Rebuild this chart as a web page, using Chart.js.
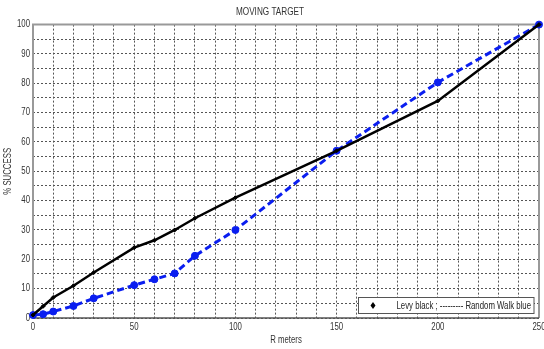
<!DOCTYPE html>
<html><head><meta charset="utf-8">
<script src="https://cdn.jsdelivr.net/npm/chart.js@4"></script>
<style>
html,body{margin:0;padding:0;background:#fff;}
</style></head><body>
<canvas id="c" width="544" height="349"></canvas>
<script>
const rMeters = [0, 5, 10, 20, 30, 50, 60, 70, 80, 100, 150, 200, 250];
const levyBlack = [1, 4, 7, 11, 15.5, 24, 26.5, 30, 34, 41, 57, 74, 100];
const randomWalkBlue = [1, 1.3, 2.2, 4.1, 6.7, 11.2, 13.2, 15.2, 21.2, 30, 57, 80.3, 100];
const xTickLabels = [0, 50, 100, 150, 200, 250];
const yTickLabels = [0, 10, 20, 30, 40, 50, 60, 70, 80, 90, 100];
const legendText = 'Levy black ; --------- Random Walk blue';

const SX = 0.78;
const canvas = document.getElementById('c');
const ctx2d = canvas.getContext('2d');
// condensed text rendering (reference uses a narrow font)
const origFill = ctx2d.fillText.bind(ctx2d);
ctx2d.fillText = function (t, x, y, mw) {
  this.save(); this.translate(x, y); this.scale(SX, 1);
  if (mw === undefined) origFill(t, 0, 0); else origFill(t, 0, 0, mw);
  this.restore();
};

const font = {family: '"Liberation Sans",Arial,sans-serif', size: 10};
const grid = {color: '#555', lineWidth: 1, drawTicks: false};
const border = {display: false, dash: [2, 2]};

new Chart(canvas, {
  type: 'line',
  data: {
    datasets: [
      {label: 'Levy black', data: rMeters.map((x, i) => ({x, y: levyBlack[i]})),
       borderColor: '#000', backgroundColor: '#000', borderWidth: 2.5,
       pointStyle: 'rectRot', pointRadius: 2, pointBorderWidth: 1, tension: 0, clip: false},
      {label: 'Random Walk blue', data: rMeters.map((x, i) => ({x, y: randomWalkBlue[i]})),
       borderColor: '#0a1ef0', backgroundColor: '#0a1ef0', borderWidth: 3, borderDash: [7, 4],
       pointStyle: 'circle', pointRadius: 3.5, pointBorderWidth: 1, tension: 0, clip: false}
    ]
  },
  options: {
    responsive: false, animation: false,
    layout: {padding: {right: 4, left: 0}},
    plugins: {
      legend: {display: false},
      tooltip: {enabled: false},
      title: {display: true, text: 'MOVING TARGET', color: '#333',
        font: {family: font.family, size: 10.5, weight: 'normal'}, padding: {top: 6, bottom: 6}}
    },
    scales: {
      x: {type: 'linear', min: 0, max: 250,
        afterFit: s => { s.height = 31; s.paddingRight = 0; s.paddingLeft = 0; },
        grid: grid, border: border,
        ticks: {stepSize: 10, autoSkip: false, color: '#333', font: font, padding: 3, maxRotation: 0,
          callback: v => xTickLabels.includes(v) ? v : ''},
        title: {display: true, text: 'R meters', color: '#333', font: font, padding: {top: 0, bottom: 3}}
      },
      y: {type: 'linear', min: 0, max: 100,
        afterFit: s => { s.width = 33; s.paddingTop = 0; s.paddingBottom = 0; },
        grid: grid, border: border,
        ticks: {stepSize: 5, autoSkip: false, color: '#333', font: font, padding: 3,
          callback: v => yTickLabels.includes(v) ? v : ''},
        title: {display: true, text: '% SUCCESS', color: '#333', font: font, padding: {top: 2, bottom: 0}}
      }
    }
  },
  plugins: [{
    id: 'frame',
    beforeDatasetsDraw(chart) {
      const {ctx, chartArea: a} = chart;
      ctx.save();
      ctx.strokeStyle = '#999'; ctx.lineWidth = 2;
      ctx.beginPath(); ctx.moveTo(a.left, a.bottom); ctx.lineTo(a.left, a.top); ctx.lineTo(a.right, a.top); ctx.lineTo(a.right, a.bottom); ctx.stroke();
      ctx.strokeStyle = '#555'; ctx.lineWidth = 1.5;
      ctx.beginPath(); ctx.moveTo(a.left, a.bottom); ctx.lineTo(a.right, a.bottom); ctx.stroke();
      ctx.restore();
    },
    afterDraw(chart) {
      const {ctx, chartArea: a} = chart;
      const bx = 358.5, by = 297.5, bw = a.right - 5 - bx, bh = 16;
      ctx.save();
      ctx.fillStyle = '#fff'; ctx.fillRect(bx, by, bw, bh);
      ctx.strokeStyle = '#555'; ctx.lineWidth = 1; ctx.strokeRect(bx, by, bw, bh);
      // diamond marker
      const dx = 373, dy = by + bh / 2;
      ctx.fillStyle = '#000';
      ctx.beginPath(); ctx.moveTo(dx, dy - 3.5); ctx.lineTo(dx + 2.5, dy); ctx.lineTo(dx, dy + 3.5); ctx.lineTo(dx - 2.5, dy); ctx.closePath(); ctx.fill();
      ctx.font = '10px "Liberation Sans",Arial,sans-serif';
      ctx.fillStyle = '#222'; ctx.textAlign = 'left'; ctx.textBaseline = 'middle';
      const w = ctx.measureText(legendText).width * SX;
      ctx.fillText(legendText, bx + bw - 3 - w, dy + 0.5);
      ctx.restore();
    }
  }]
});
</script></body></html>
